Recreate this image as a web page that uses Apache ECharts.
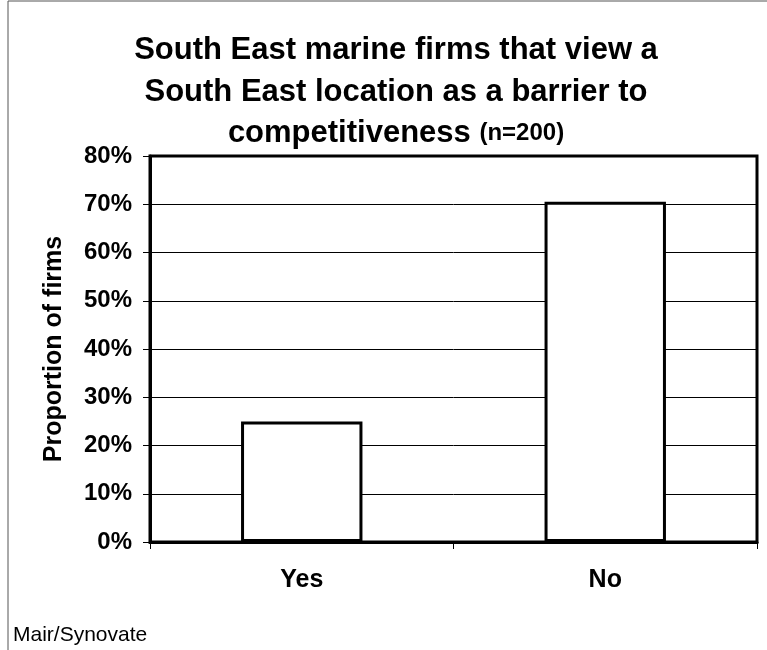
<!DOCTYPE html>
<html>
<head>
<meta charset="utf-8">
<script src="https://cdn.jsdelivr.net/npm/echarts@6/dist/echarts.min.js"></script>
<style>
  html, body { margin: 0; padding: 0; background: #fff; }
  #chart { width: 767px; height: 650px; }
</style>
</head>
<body>
<div id="chart"></div>
<script>
// Survey answers and share of firms (%)
const categories = ['Yes', 'No'];
const shareOfFirms = [25, 70.5];
const yTicks = { min: 0, max: 80, step: 10 };

const FONT = '"Liberation Sans", Arial, sans-serif';
const chart = echarts.init(document.getElementById('chart'), null, { renderer: 'canvas' });

chart.setOption({
  animation: false,
  backgroundColor: '#fff',
  graphic: [
    {
      type: 'rect',
      shape: { x: 8, y: 1, width: 800, height: 700 },
      style: { fill: 'none', stroke: '#555', lineWidth: 1 },
      silent: true
    },
    {
      type: 'text',
      left: 13,
      top: 625,
      style: { text: 'Mair/Synovate', font: '21px ' + FONT, fill: '#000' }
    }
  ],
  title: {
    text: 'South East marine firms that view a\nSouth East location as a barrier to\ncompetitiveness {small|(n=200)}',
    left: 391,
    textAlign: 'center',
    top: 25,
    textStyle: {
      fontFamily: FONT,
      fontSize: 31,
      fontWeight: 'bold',
      color: '#000',
      lineHeight: 41.5,
      rich: {
        small: { fontFamily: FONT, fontSize: 24, fontWeight: 'bold', color: '#000' }
      }
    }
  },
  grid: {
    left: 150,
    top: 156,
    right: 10,
    bottom: 108,
    show: true,
    borderColor: '#000',
    borderWidth: 3,
    backgroundColor: 'transparent'
  },
  xAxis: {
    type: 'category',
    data: categories,
    axisLine: { show: true, lineStyle: { color: '#000', width: 3 } },
    axisTick: { show: true, length: 7, lineStyle: { color: '#000', width: 1 } },
    axisLabel: {
      margin: 26,
      fontFamily: FONT,
      fontSize: 25,
      fontWeight: 'bold',
      color: '#000'
    },
    splitLine: { show: false }
  },
  yAxis: {
    type: 'value',
    min: yTicks.min,
    max: yTicks.max,
    interval: yTicks.step,
    name: 'Proportion of firms',
    nameLocation: 'middle',
    nameRotate: 90,
    nameGap: 83,
    nameTextStyle: {
      fontFamily: FONT,
      fontSize: 25,
      fontWeight: 'bold',
      color: '#000'
    },
    axisLine: { show: true, lineStyle: { color: '#000', width: 3 } },
    axisTick: { show: true, length: 7, lineStyle: { color: '#000', width: 1 } },
    axisLabel: {
      margin: 18,
      formatter: '{value}%',
      fontFamily: FONT,
      fontSize: 24,
      fontWeight: 'bold',
      color: '#000'
    },
    splitLine: { show: true, lineStyle: { color: '#000', width: 1 } }
  },
  series: [
    {
      type: 'bar',
      data: shareOfFirms,
      barWidth: '40%',
      itemStyle: { color: '#fff', borderColor: '#000', borderWidth: 3 },
      silent: true
    }
  ]
});
</script>
</body>
</html>
